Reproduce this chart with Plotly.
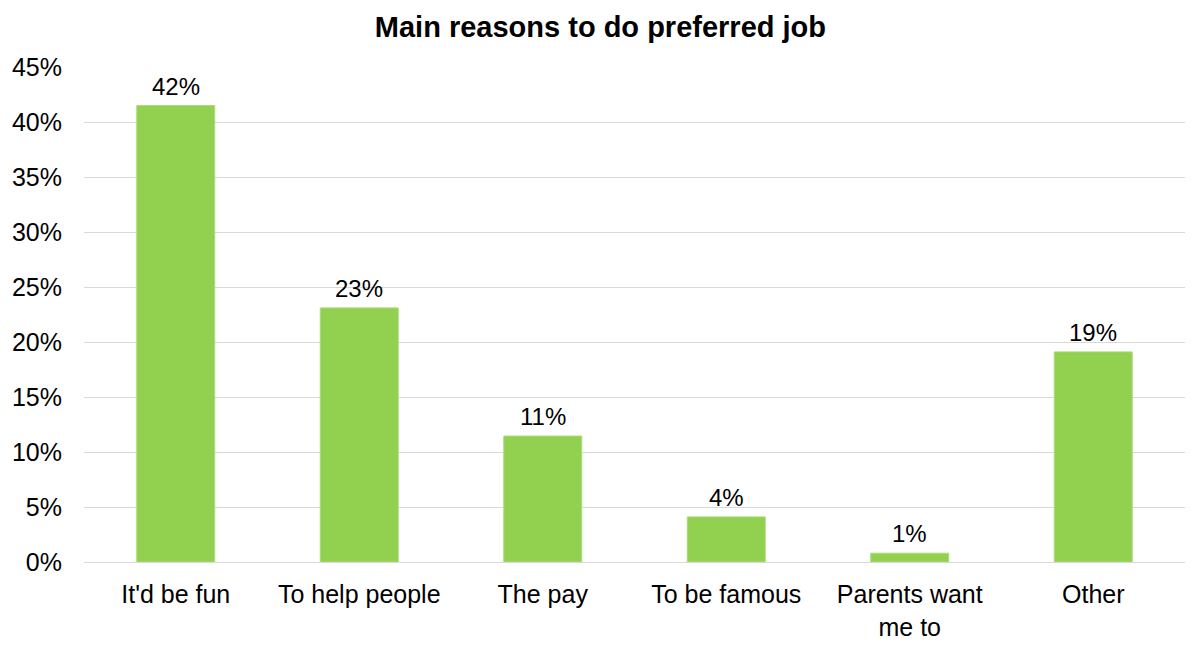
import plotly.graph_objects as go

categories = ["It'd be fun", "To help people", "The pay", "To be famous", "Parents want<br>me to", "Other"]
values = [0.415, 0.231, 0.1145, 0.041, 0.008, 0.191]
labels = ["42%", "23%", "11%", "4%", "1%", "19%"]
tick_vals = [0, 0.05, 0.10, 0.15, 0.20, 0.25, 0.30, 0.35, 0.40, 0.45]
tick_text = ["0%", "5%", "10%", "15%", "20%", "25%", "30%", "35%", "40%", "45%"]

FONT = "Liberation Sans, Arial, sans-serif"
W, H = 1192, 639  # page body adds an 8px margin

fig = go.Figure(go.Bar(
    x=categories, y=values,
    marker=dict(color="#92D050", line=dict(color="#A9DC77", width=1)),
    hoverinfo="x+y",
))
for c, v, t in zip(categories, values, labels):
    fig.add_annotation(x=c, y=v, text=t, showarrow=False, yanchor="bottom",
                       yshift=4, font=dict(size=24, color="#000000", family=FONT))

fig.update_layout(
    width=W, height=H,
    paper_bgcolor="white", plot_bgcolor="white",
    margin=dict(l=76, r=15, t=59, b=85, autoexpand=False),
    bargap=0.575,
    font=dict(family=FONT, color="#000000"),
    title=dict(text="<b>Main reasons to do preferred job</b>", x=0.497, xanchor="center",
               xref="container", y=1 - 19 / H, yanchor="middle",
               font=dict(size=29, color="#000000")),
    showlegend=False,
)
fig.update_yaxes(range=[0, 0.45], tickvals=tick_vals, ticktext=tick_text,
                 showgrid=True, gridcolor="#D9D9D9", gridwidth=1, zeroline=False,
                 tickfont=dict(size=25), ticks="", ticklabelstandoff=21, automargin=False)
fig.update_xaxes(showline=True, linecolor="#D9D9D9", linewidth=1, tickfont=dict(size=25),
                 ticks="", ticklabelstandoff=10, automargin=False)
fig.write_html("out.html")
